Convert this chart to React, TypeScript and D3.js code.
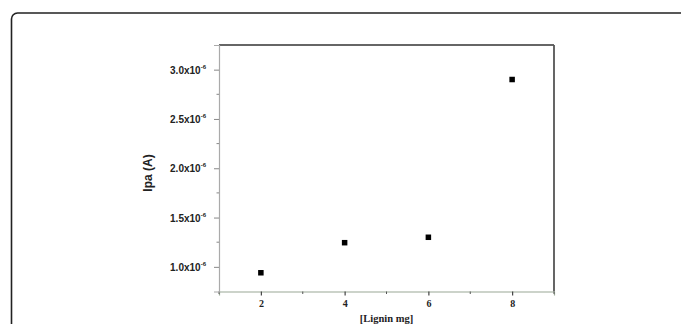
import React, { useEffect, useRef } from "react";
import * as d3 from "d3";

const ligninMg = [2, 4, 6, 8];
const ipaValues = [0.94e-6, 1.245e-6, 1.3e-6, 2.9e-6];
const xTicks = [2, 4, 6, 8];
const xMinorTicks = [1, 3, 5, 7, 9];
const yTicks = [1.0e-6, 1.5e-6, 2.0e-6, 2.5e-6, 3.0e-6];
const yMinorTicks = [1.25e-6, 1.75e-6, 2.25e-6, 2.75e-6];

const W = 681;
const H = 324;

const App: React.FC = () => {
  const svgRef = useRef<SVGSVGElement | null>(null);

  useEffect(() => {
    if (!svgRef.current) return;
    const svg = d3.select(svgRef.current);
    svg.selectAll("*").remove();

    const left = 219;
    const right = 554;
    const top = 45;
    const bottom = 291.5;

    const x = d3.scaleLinear().domain([1, 9]).range([left, right]);
    const y = d3.scaleLinear().domain([0.75e-6, 3.25e-6]).range([bottom, top]);

    // outer frame (rounded, runs off the page)
    svg
      .append("rect")
      .attr("x", 11.5)
      .attr("y", 13)
      .attr("width", W + 20)
      .attr("height", H + 20)
      .attr("rx", 6)
      .attr("fill", "none")
      .attr("stroke", "#222")
      .attr("stroke-width", 1.6);

    // plot box
    svg
      .append("line")
      .attr("x1", left)
      .attr("x2", right)
      .attr("y1", top)
      .attr("y2", top)
      .attr("stroke", "#333")
      .attr("stroke-width", 1.3);
    svg
      .append("line")
      .attr("x1", right)
      .attr("x2", right)
      .attr("y1", top)
      .attr("y2", bottom)
      .attr("stroke", "#555")
      .attr("stroke-width", 1.8);

    // x axis
    const gx = svg.append("g").attr("transform", `translate(0,${bottom})`);
    gx.call(
      d3
        .axisBottom(x)
        .tickValues(xTicks)
        .tickSize(4)
        .tickPadding(4)
        .tickFormat((d) => String(d))
    );
    gx.select(".domain").attr("stroke", "#9aa896").attr("stroke-width", 1.2);
    gx.selectAll(".tick line").attr("stroke", "#444").attr("stroke-width", 1.2);
    gx.selectAll(".tick text")
      .attr("fill", "#222")
      .attr("font-family", "'Liberation Serif', serif")
      .attr("font-weight", "bold")
      .attr("font-size", 10);
    gx.selectAll(".minor")
      .data(xMinorTicks)
      .enter()
      .append("line")
      .attr("x1", (d) => x(d))
      .attr("x2", (d) => x(d))
      .attr("y1", 0)
      .attr("y2", 2.5)
      .attr("stroke", "#555")
      .attr("stroke-width", 1);

    // y axis
    const gy = svg.append("g").attr("transform", `translate(${left},0)`);
    gy.call(d3.axisLeft(y).tickValues(yTicks).tickSize(5).tickFormat(() => ""));
    gy.select(".domain").attr("stroke", "#aaa").attr("stroke-width", 1.2);
    gy.selectAll(".tick line").attr("stroke", "#888").attr("stroke-width", 1);
    gy.selectAll(".minor")
      .data(yMinorTicks)
      .enter()
      .append("line")
      .attr("x1", -2.5)
      .attr("x2", 0)
      .attr("y1", (d) => y(d))
      .attr("y2", (d) => y(d))
      .attr("stroke", "#888")
      .attr("stroke-width", 1);

    const yLab = gy
      .selectAll(".ylab")
      .data(yTicks)
      .enter()
      .append("text")
      .attr("x", -13)
      .attr("y", (d) => y(d) + 4)
      .attr("text-anchor", "end")
      .attr("font-family", "'Liberation Sans', Arial, sans-serif")
      .attr("font-weight", "bold")
      .attr("font-size", 10)
      .attr("fill", "#222");
    yLab.append("tspan").text((d) => `${(d * 1e6).toFixed(1)}x10`);
    yLab
      .append("tspan")
      .attr("dy", -5)
      .attr("font-size", 6)
      .text("-6");

    // points
    svg
      .selectAll(".pt")
      .data(ligninMg)
      .enter()
      .append("rect")
      .attr("x", (d) => x(d) - 2.75)
      .attr("y", (d, i) => y(ipaValues[i]) - 2.75)
      .attr("width", 5.5)
      .attr("height", 5.5)
      .attr("fill", "#000");

    // axis titles
    svg
      .append("text")
      .attr("x", (left + right) / 2)
      .attr("y", 322)
      .attr("text-anchor", "middle")
      .attr("font-family", "'Liberation Serif', serif")
      .attr("font-weight", "bold")
      .attr("font-size", 10.5)
      .attr("fill", "#222")
      .text("[Lignin mg]");

    svg
      .append("text")
      .attr("transform", `translate(152,173) rotate(-90)`)
      .attr("text-anchor", "middle")
      .attr("font-family", "'Liberation Sans', Arial, sans-serif")
      .attr("font-weight", "bold")
      .attr("font-size", 12)
      .attr("fill", "#222")
      .text("Ipa (A)");
  }, []);

  return (
    <svg
      ref={svgRef}
      width={W}
      height={H}
      style={{ position: "absolute", left: 0, top: 0, background: "#fff" }}
    />
  );
};

export default App;
